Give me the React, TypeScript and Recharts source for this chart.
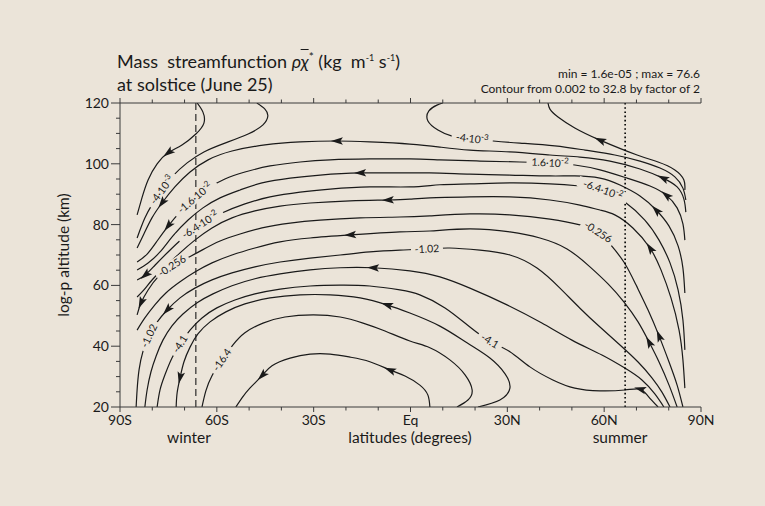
import React from "react";
import { LineChart, Line, XAxis, YAxis } from "recharts";

// latitude ticks (deg) and their labels
const latTicks = [-90, -80, -70, -60, -50, -40, -30, -20, -10, 0, 10, 20, 30, 40, 50, 60, 70, 80, 90];
const latMajor = [-90, -60, -30, 0, 30, 60, 90];
const latNames = ["90S", "60S", "30S", "Eq", "30N", "60N", "90N"];
const altTicks = [20, 25, 30, 35, 40, 45, 50, 55, 60, 65, 70, 75, 80, 85, 90, 95, 100, 105, 110, 115, 120];

// polar circles
const winterCircle = -66.5;
const summerCircle = 66.5;

// contours, [lat, alt(km)], in flow order
const c002r: [number, number][] = [[85.0,91.4],[84.7,94.7],[81.9,98.0],[76.7,100.6],[70.2,102.9],[58.7,107.8],[50.9,111.8],[45.7,115.4],[43.2,118.0],[42.6,120]];
const c002l: [number, number][] = [[-66.1,120],[-64.3,117.0],[-64.0,113.4],[-66.5,109.8],[-70.8,106.2],[-75.1,103.6],[-78.5,100.0],[-81.3,94.7],[-83.2,88.8],[-84.7,83.2]];
const c004r: [number, number][] = [[85.3,88.1],[84.4,92.0],[81.9,95.7],[77.3,98.6],[71.1,100.9],[63.3,102.9],[54.1,104.5],[44.7,105.9],[33.9,106.8],[25.6,107.5],[19.1,108.2],[12.9,109.1],[8.5,111.1],[5.4,114.1],[5.7,117.4],[8.2,119.3],[10.0,120]];
const c004l: [number, number][] = [[-47.6,120],[-45.1,118.0],[-44.2,115.7],[-45.7,112.8],[-50.3,109.8],[-57.5,106.8],[-64.0,103.9],[-69.2,100.3],[-73.6,96.0],[-77.0,91.4],[-80.1,86.5],[-82.3,82.2],[-83.8,78.2],[-84.7,75.6]];
const c008: [number, number][] = [[85.3,84.1],[84.7,88.4],[82.6,92.4],[78.2,95.3],[71.1,98.3],[61.8,100.9],[52.5,102.2],[43.2,102.9],[30.8,103.9],[18.4,104.5],[9.1,105.5],[-0.2,106.5],[-12.6,107.2],[-22.8,107.5],[-34.2,107.2],[-45.1,106.2],[-55.3,104.2],[-62.7,101.3],[-68.3,97.3],[-73.0,92.4],[-77.0,87.1],[-80.1,82.2],[-82.6,76.9],[-84.7,72.3]];
const c016: [number, number][] = [[85.0,74.9],[84.4,80.2],[82.6,85.5],[79.2,89.7],[74.2,92.7],[67.1,95.3],[58.7,98.0],[50.9,99.6],[43.2,100.3],[33.9,100.6],[21.5,100.9],[9.1,101.3],[-0.2,101.6],[-12.6,101.6],[-24.9,101.3],[-34.2,100.6],[-43.5,99.3],[-51.3,97.3],[-57.5,95.0],[-62.7,92.0],[-66.8,88.8],[-71.4,84.1],[-75.1,79.5],[-78.5,74.6],[-81.6,70.3],[-84.7,67.7]];
const c032: [number, number][] = [[85.0,57.5],[84.4,65.7],[82.9,73.0],[80.1,79.5],[76.1,84.8],[71.1,89.4],[64.9,93.0],[58.7,95.3],[50.9,96.0],[43.2,96.0],[30.8,96.3],[18.4,96.6],[6.0,97.0],[-3.3,97.0],[-15.6,97.0],[-28.0,96.3],[-37.3,95.3],[-46.0,93.7],[-52.8,91.4],[-59.0,88.8],[-64.3,85.5],[-68.9,81.5],[-73.6,76.3],[-77.6,71.0],[-81.3,67.4],[-84.7,65.1]];
const c064: [number, number][] = [[85.0,38.8],[84.4,48.6],[82.9,58.5],[80.4,67.4],[77.0,74.9],[72.6,81.5],[66.4,87.4],[59.6,91.4],[52.5,92.7],[43.2,93.4],[30.8,93.7],[18.4,93.4],[9.1,93.1],[-0.2,92.4],[-12.6,92.4],[-24.9,91.7],[-34.2,90.7],[-43.5,89.1],[-51.3,86.8],[-58.4,83.8],[-65.2,79.9],[-70.5,75.6],[-75.1,71.0],[-79.1,66.7],[-82.2,63.4],[-84.7,61.8]];
const c128: [number, number][] = [[85.0,26.2],[84.4,35.5],[83.2,45.3],[80.7,55.9],[77.6,65.1],[74.2,72.3],[68.9,78.9],[63.3,83.2],[58.7,84.8],[52.5,86.4],[43.2,88.1],[30.8,89.1],[18.4,89.1],[6.0,88.8],[-0.2,88.4],[-7.0,88.1],[-18.7,87.8],[-31.1,87.1],[-40.4,86.1],[-48.2,84.5],[-55.3,82.2],[-61.5,78.9],[-66.8,74.9],[-71.4,70.7],[-75.7,66.4],[-79.8,62.1],[-82.6,58.5],[-84.7,56.2]];
const c256: [number, number][] = [[84.4,20],[82.6,27.2],[80.1,34.8],[77.0,43.4],[73.6,51.9],[69.9,60.1],[66.1,67.7],[61.8,73.6],[58.1,77.6],[52.5,79.9],[43.2,81.8],[30.8,83.2],[18.4,83.5],[6.0,82.9],[-3.3,82.5],[-15.6,82.2],[-28.0,81.5],[-37.3,80.5],[-46.0,78.9],[-52.8,76.9],[-59.0,74.6],[-64.6,71.6],[-69.2,69.0],[-73.9,66.4],[-78.2,62.8],[-81.3,58.5],[-83.5,54.2],[-84.7,50.3]];
const c512: [number, number][] = [[82.6,20],[80.1,27.2],[77.0,34.8],[73.9,41.4],[70.5,48.0],[66.1,54.6],[61.2,60.5],[55.6,66.1],[48.5,72.0],[40.1,75.6],[30.8,77.6],[18.4,78.6],[6.0,77.9],[-3.3,77.6],[-18.7,76.6],[-31.1,75.6],[-40.4,74.3],[-48.2,72.3],[-55.3,70.0],[-61.5,67.4],[-66.8,64.4],[-71.4,61.2],[-75.7,57.6],[-79.2,53.6],[-82.3,49.3],[-84.7,45.3]];
const c102: [number, number][] = [[80.4,20],[77.9,24.9],[74.8,29.6],[70.5,34.8],[64.9,40.4],[58.7,46.3],[52.5,52.5],[46.3,59.1],[39.2,65.7],[30.8,70.0],[21.5,71.6],[12.2,72.3],[5.1,72.0],[-3.3,71.6],[-12.6,71.0],[-21.8,70.0],[-31.1,69.0],[-40.4,67.7],[-48.2,66.1],[-55.3,64.1],[-61.5,61.8],[-66.8,59.1],[-71.4,55.9],[-75.4,51.9],[-78.5,47.9],[-81.0,43.4],[-82.9,38.2],[-84.1,32.2],[-84.7,25.6],[-85.0,20]];
const c205: [number, number][] = [[78.5,20],[75.7,24.3],[71.7,28.9],[66.4,32.8],[59.3,37.1],[50.0,42.0],[40.7,47.6],[29.9,53.6],[18.4,59.1],[9.1,62.8],[-0.2,64.8],[-11.6,65.8],[-21.8,65.8],[-31.1,65.1],[-40.4,63.8],[-48.2,62.2],[-55.3,59.9],[-61.2,57.2],[-66.1,54.3],[-70.5,50.6],[-73.9,46.7],[-76.7,42.0],[-78.8,36.8],[-80.4,31.6],[-81.6,25.6],[-82.3,20]];
const c41: [number, number][] = [[76.7,20],[73.6,23.6],[71.1,25.9],[66.4,25.6],[58.7,25.3],[50.9,26.2],[44.1,28.9],[37.0,33.2],[30.8,38.2],[24.6,41.7],[18.4,46.3],[10.7,52.6],[2.9,56.9],[-3.3,58.5],[-12.6,59.8],[-21.8,60.1],[-31.1,59.8],[-40.4,58.8],[-48.2,57.2],[-54.4,55.2],[-60.0,52.6],[-64.6,49.3],[-68.3,45.3],[-71.4,40.7],[-73.9,36.1],[-76.1,30.5],[-77.6,25.6],[-78.5,20]];
const c82: [number, number][] = [[20.9,20],[27.7,22.3],[30.8,26.2],[29.3,30.9],[24.6,36.1],[17.5,41.1],[9.1,46.6],[-0.2,50.9],[-7.3,53.6],[-15.6,55.9],[-24.9,56.9],[-34.2,56.9],[-43.5,55.9],[-51.3,53.9],[-57.2,51.3],[-62.1,48.0],[-65.8,44.1],[-68.3,39.7],[-70.2,34.8],[-71.4,29.6],[-72.3,24.7],[-72.6,20]];
const c164: [number, number][] = [[14.4,20],[17.8,22.3],[19.1,25.6],[16.9,30.6],[12.2,35.5],[6.0,39.5],[-0.2,41.7],[-7.9,45.0],[-14.7,47.6],[-21.8,49.6],[-30.2,50.3],[-38.9,49.6],[-45.7,47.6],[-51.3,44.4],[-55.0,40.4],[-58.4,35.5],[-61.5,30.3],[-63.4,25.3],[-64.6,20]];
const c328: [number, number][] = [[6.0,20],[5.4,23.9],[2.9,27.2],[-1.7,30.2],[-6.4,32.2],[-12.6,34.9],[-18.7,36.4],[-24.9,37.4],[-31.1,37.4],[-37.3,36.1],[-42.9,33.6],[-46.0,30.3],[-49.7,26.3],[-52.2,23.0],[-54.1,20]];

type Mark = [number, string, string?];
const contours: { id: string; pts: [number, number][]; arrows: number[]; labels: Mark[] }[] = [
  { id: "c002r", pts: c002r, arrows: [5], labels: [] },
  { id: "c002l", pts: c002l, arrows: [5], labels: [] },
  { id: "c004r", pts: c004r, arrows: [], labels: [[10, "-4·10", "-3"]] },
  { id: "c004l", pts: c004l, arrows: [], labels: [[9, "-4·10", "-3"]] },
  { id: "c008", pts: c008, arrows: [3, 13, 20], labels: [] },
  { id: "c016", pts: c016, arrows: [3, 22], labels: [[8, "1.6·10", "-2"], [20, "-1.6·10", "-2"]] },
  { id: "c032", pts: c032, arrows: [4, 14], labels: [] },
  { id: "c064", pts: c064, arrows: [24], labels: [[7, "-6.4·10", "-2"], [20, "-6.4·10", "-2"]] },
  { id: "c128", pts: c128, arrows: [5, 15], labels: [] },
  { id: "c256", pts: c256, arrows: [3, 26], labels: [[8, "-0.256"], [23, "-0.256"]] },
  { id: "c512", pts: c512, arrows: [3, 14], labels: [] },
  { id: "c102", pts: c102, arrows: [23], labels: [[12, "-1.02"], [25, "-1.02"]] },
  { id: "c205", pts: c205, arrows: [11], labels: [] },
  { id: "c41", pts: c41, arrows: [2], labels: [[9, "-4.1"], [23, "-4.1"]] },
  { id: "c82", pts: c82, arrows: [8, 19], labels: [] },
  { id: "c164", pts: c164, arrows: [], labels: [[15, "-16.4"]] },
  { id: "c328", pts: c328, arrows: [4, 11], labels: [] },
];

const W = 765;
const H = 506;
const MARGIN = { top: 93, right: 64, bottom: 69, left: 70 };
const Y_W = 50;
const XTOP_H = 10;
const XBOT_H = 30;
const PLOT_W = W - MARGIN.left - Y_W - MARGIN.right;
const PLOT_H = H - MARGIN.top - XTOP_H - MARGIN.bottom - XBOT_H;

const BG = "#ebe4d9";
const INK = "#1a1a1a";
const AXIS = "#3a3a3a";
const FONT = "Lato, 'Open Sans', sans-serif";

function angleAt(pts: [number, number][], i: number, points?: any[]) {
  const a = Math.max(0, i - 1);
  const b = Math.min(pts.length - 1, i + 1);
  let dx: number, dy: number;
  if (points && points[a] && points[b] && points[a].x != null) {
    dx = points[b].x - points[a].x;
    dy = points[b].y - points[a].y;
  } else {
    dx = ((pts[b][0] - pts[a][0]) * PLOT_W) / 180;
    dy = (-(pts[b][1] - pts[a][1]) * PLOT_H) / 100;
  }
  return (Math.atan2(dy, dx) * 180) / Math.PI;
}

function makeDot(c: (typeof contours)[number]) {
  return (props: any) => {
    const { cx, cy, index, points } = props;
    const key = `${c.id}-${index}`;
    if (cx == null || cy == null) return <g key={key} />;
    if (c.arrows.includes(index)) {
      const ang = angleAt(c.pts, index, points);
      return (
        <path
          key={key}
          d="M6,0 L-6,-3.8 L-3.5,0 L-6,3.8 Z"
          transform={`translate(${cx},${cy}) rotate(${ang})`}
          fill={INK}
        />
      );
    }
    const lab = c.labels.find((l) => l[0] === index);
    if (lab) {
      let ang = angleAt(c.pts, index, points);
      if (ang > 90) ang -= 180;
      if (ang < -90) ang += 180;
      const [, txt, sup] = lab;
      const w = txt.length * 5.4 + (sup ? sup.length * 4.2 + 1 : 0) + 5;
      return (
        <g key={key} transform={`translate(${cx},${cy}) rotate(${ang})`}>
          <rect x={-w / 2} y={-5.5} width={w} height={11} fill={BG} />
          <text x={0} y={3.6} textAnchor="middle" fontSize={10.5} fill={INK} fontFamily={FONT}>
            {txt}
            {sup && (
              <tspan dy={-4} fontSize={8}>
                {sup}
              </tspan>
            )}
          </text>
        </g>
      );
    }
    return <g key={key} />;
  };
}

const XTickBottom = (props: any) => {
  const { x, y, payload } = props;
  const v = payload.value;
  const k = latMajor.indexOf(v);
  const major = k >= 0;
  return (
    <g>
      <line x1={x} x2={x} y1={y} y2={y + (major ? 5 : 3.5)} stroke={AXIS} />
      {major && (
        <text x={x} y={y + 18} textAnchor="middle" fontSize={14} fill={INK} fontFamily={FONT}>
          {latNames[k]}
        </text>
      )}
    </g>
  );
};

const XTickTop = (props: any) => {
  const { x, y, payload } = props;
  const major = latMajor.includes(payload.value);
  return <line x1={x} x2={x} y1={y} y2={y - (major ? 5 : 3.5)} stroke={AXIS} />;
};

const YTick = (props: any) => {
  const { x, y, payload } = props;
  const v = payload.value;
  const major = v % 20 === 0;
  return (
    <g>
      <line x1={x} x2={x - (major ? 9 : 4)} y1={y} y2={y} stroke={AXIS} />
      {major && (
        <text x={x - 11} y={y + 5} textAnchor="end" fontSize={14} fill={INK} fontFamily={FONT}>
          {v}
        </text>
      )}
    </g>
  );
};

export default function App() {
  return (
    <div
      style={{
        position: "absolute",
        left: 0,
        top: 0,
        width: W,
        height: H,
        background: BG,
        fontFamily: FONT,
        color: INK,
        overflow: "hidden",
      }}
    >
      <div style={{ position: "absolute", left: 117, top: 45, fontSize: 18, lineHeight: "23px", whiteSpace: "nowrap" }}>
        <div>
          Mass&nbsp; streamfunction <i>ρ</i>
          <span style={{ textDecoration: "overline" }}>
            <i>χ</i>
          </span>
          <sup style={{ fontSize: 12 }}>*</sup> (kg&nbsp; m<sup style={{ fontSize: 9 }}>-1</sup> s<sup style={{ fontSize: 9 }}>-1</sup>)
        </div>
        <div>at solstice (June 25)</div>
      </div>
      <div
        style={{
          position: "absolute",
          right: 65,
          top: 66,
          fontSize: 12,
          lineHeight: "15px",
          textAlign: "right",
          whiteSpace: "nowrap",
        }}
      >
        <div>min = 1.6e-05 ; max = 76.6</div>
        <div>Contour from 0.002 to 32.8 by factor of 2</div>
      </div>

      <LineChart width={W} height={H} margin={MARGIN} style={{ position: "absolute", left: 0, top: 0 }}>
        <XAxis
          dataKey="lat"
          type="number"
          domain={[-90, 90]}
          allowDataOverflow
          ticks={latTicks}
          interval={0}
          height={XBOT_H}
          tickSize={0}
          tickMargin={0}
          tickLine={false}
          axisLine={{ stroke: AXIS }}
          tick={<XTickBottom />}
        />
        <XAxis
          xAxisId="top"
          orientation="top"
          dataKey="lat"
          type="number"
          domain={[-90, 90]}
          allowDataOverflow
          ticks={latTicks}
          interval={0}
          height={XTOP_H}
          tickSize={0}
          tickMargin={0}
          tickLine={false}
          axisLine={{ stroke: AXIS }}
          tick={<XTickTop />}
        />
        <YAxis
          type="number"
          domain={[20, 120]}
          allowDataOverflow
          ticks={altTicks}
          interval={0}
          width={Y_W}
          tickSize={0}
          tickMargin={0}
          tickLine={false}
          axisLine={{ stroke: AXIS }}
          tick={<YTick />}
        />
        {contours.map((c) => (
          <Line
            key={c.id}
            data={c.pts.map(([lat, alt]) => ({ lat, alt }))}
            dataKey="alt"
            type="natural"
            stroke={INK}
            strokeWidth={1.2}
            dot={makeDot(c)}
            activeDot={false}
            isAnimationActive={false}
          />
        ))}
        <Line
          data={[{ lat: winterCircle, alt: 20 }, { lat: winterCircle, alt: 120 }]}
          dataKey="alt"
          type="linear"
          stroke={INK}
          strokeWidth={1.1}
          strokeDasharray="7 4"
          dot={false}
          activeDot={false}
          isAnimationActive={false}
        />
        <Line
          data={[{ lat: summerCircle, alt: 120 }, { lat: summerCircle, alt: 20 }]}
          dataKey="alt"
          type="linear"
          stroke="#000"
          strokeWidth={1.6}
          strokeDasharray="1.6 2.6"
          dot={false}
          activeDot={false}
          isAnimationActive={false}
        />
      </LineChart>

      <div
        style={{
          position: "absolute",
          left: 63,
          top: 255,
          transform: "translate(-50%, -50%) rotate(-90deg)",
          fontSize: 15.5,
          whiteSpace: "nowrap",
        }}
      >
        log-p altitude (km)
      </div>
      <div style={{ position: "absolute", left: 189, top: 437, transform: "translate(-50%, -50%)", fontSize: 15.5 }}>
        winter
      </div>
      <div
        style={{
          position: "absolute",
          left: 410,
          top: 437,
          transform: "translate(-50%, -50%)",
          fontSize: 15.5,
          whiteSpace: "nowrap",
        }}
      >
        latitudes (degrees)
      </div>
      <div style={{ position: "absolute", left: 620, top: 437, transform: "translate(-50%, -50%)", fontSize: 15.5 }}>
        summer
      </div>
    </div>
  );
}
